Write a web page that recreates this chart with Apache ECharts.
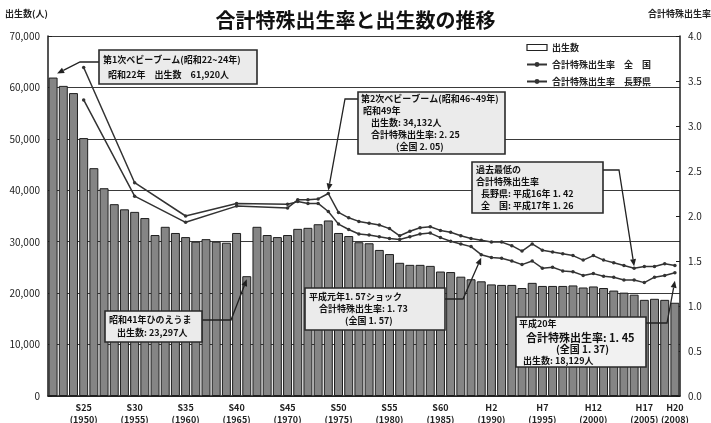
<!DOCTYPE html>
<html>
<head>
<meta charset="utf-8">
<script src="https://cdn.jsdelivr.net/npm/echarts/dist/echarts.min.js"></script>
<style>
  html, body { margin: 0; padding: 0; background: #ffffff; }
  #chart { width: 711px; height: 423px; }
</style>
</head>
<body>
<div id="chart"></div>
<script>
// Years on the category axis (昭和22年 … 平成20年)
const years = [
  '1947','1948','1949','1950','1951','1952','1953','1954','1955','1956',
  '1957','1958','1959','1960','1961','1962','1963','1964','1965','1966',
  '1967','1968','1969','1970','1971','1972','1973','1974','1975','1976',
  '1977','1978','1979','1980','1981','1982','1983','1984','1985','1986',
  '1987','1988','1989','1990','1991','1992','1993','1994','1995','1996',
  '1997','1998','1999','2000','2001','2002','2003','2004','2005','2006',
  '2007','2008'
];

// 出生数 (長野県, 人)
const births = [
  61920, 60300, 58900, 50150, 44300, 40400, 37300, 36300, 35800, 34600,
  31300, 32900, 31700, 30900, 30000, 30500, 30000, 29800, 31700, 23297,
  32900, 31300, 30900, 31300, 32500, 32700, 33400, 34132, 31700, 31100,
  29900, 29700, 28400, 27600, 25900, 25500, 25500, 25300, 24200, 24100,
  23200, 22700, 22300, 21700, 21600, 21600, 21000, 22000, 21400, 21400,
  21400, 21500, 21100, 21300, 21000, 20500, 20100, 19700, 18700, 18900,
  18700, 18129
];

// 合計特殊出生率 全国 (5-year points before 1970, yearly afterwards)
const tfrNational = [
  null, null, null, 3.65, null, null, null, null, 2.37, null,
  null, null, null, 2.00, null, null, null, null, 2.14, null,
  null, null, null, 2.13, 2.16, 2.14, 2.14, 2.05, 1.91, 1.85,
  1.80, 1.79, 1.77, 1.75, 1.74, 1.77, 1.80, 1.81, 1.76, 1.72,
  1.69, 1.66, 1.57, 1.54, 1.53, 1.50, 1.46, 1.50, 1.42, 1.43,
  1.39, 1.38, 1.34, 1.36, 1.33, 1.32, 1.29, 1.29, 1.26, 1.32,
  1.34, 1.37
];

// 合計特殊出生率 長野県
const tfrNagano = [
  null, null, null, 3.29, null, null, null, null, 2.22, null,
  null, null, null, 1.93, null, null, null, null, 2.11, null,
  null, null, null, 2.09, 2.18, 2.18, 2.19, 2.25, 2.04, 1.98,
  1.94, 1.92, 1.90, 1.86, 1.78, 1.83, 1.87, 1.88, 1.84, 1.82,
  1.78, 1.75, 1.73, 1.71, 1.71, 1.67, 1.61, 1.69, 1.62, 1.60,
  1.58, 1.56, 1.51, 1.56, 1.51, 1.48, 1.45, 1.42, 1.44, 1.44,
  1.47, 1.45
];

// Labelled years on the horizontal axis
const tickYears = ['1950','1955','1960','1965','1970','1975','1980','1985','1990','1995','2000','2005','2008'];
const tickEras  = ['S25','S30','S35','S40','S45','S50','S55','S60','H2','H7','H12','H17','H20'];

const FONT = '"Noto Sans CJK JP", "Noto Sans", sans-serif';
const INK = '#1c1c1c';
const tickMap = {};
tickYears.forEach((y, i) => { tickMap[y] = tickEras[i] + '\n(' + y + ')'; });

const chart = echarts.init(document.getElementById('chart'), null, { renderer: 'canvas' });

const option = {
  backgroundColor: '#ffffff',
  animation: false,
  textStyle: { fontFamily: FONT },
  title: {
    text: '合計特殊出生率と出生数の推移',
    left: 'center',
    top: 5,
    textStyle: { fontSize: 20, fontWeight: 'bold', color: '#111', fontFamily: FONT }
  },
  legend: {
    orient: 'vertical',
    left: 521,
    top: 38,
    itemGap: 8,
    itemWidth: 20,
    itemHeight: 6,
    textStyle: { fontSize: 9, fontWeight: 'bold', color: '#222', fontFamily: FONT },
    data: [
      { name: '出生数', icon: 'rect', itemStyle: { color: '#ffffff', borderColor: '#222', borderWidth: 1.2 } },
      '合計特殊出生率　全　国',
      '合計特殊出生率　長野県'
    ]
  },
  grid: { left: 48, right: 31, top: 36, bottom: 27, containLabel: false, outerBoundsMode: 'none' },
  xAxis: {
    type: 'category',
    data: years,
    boundaryGap: true,
    axisLine: { lineStyle: { color: INK, width: 1.5 } },
    axisTick: { show: false },
    axisLabel: {
      interval: (idx, val) => tickMap[val] !== undefined,
      formatter: (val) => tickMap[val] || '',
      fontSize: 9,
      lineHeight: 12,
      fontWeight: 'bold',
      color: '#222',
      margin: 6,
      hideOverlap: false,
      fontFamily: FONT
    },
    splitLine: { show: false }
  },
  yAxis: [
    {
      type: 'value',
      position: 'left',
      min: 0,
      max: 70000,
      interval: 10000,
      axisLine: { show: true, lineStyle: { color: INK, width: 1.5 } },
      axisTick: { show: true, inside: true, length: 4, lineStyle: { color: INK } },
      axisLabel: {
        formatter: (v) => v === 0 ? '0' : v.toLocaleString('en-US'),
        fontSize: 10,
        color: '#222',
        margin: 8,
        fontFamily: FONT
      },
      splitLine: { show: true, lineStyle: { color: '#3a3a3a', width: 1 } }
    },
    {
      type: 'value',
      position: 'right',
      min: 0,
      max: 4,
      interval: 0.5,
      axisLine: { show: true, lineStyle: { color: INK, width: 1.5 } },
      axisTick: { show: true, inside: true, length: 4, lineStyle: { color: INK } },
      axisLabel: {
        formatter: (v) => v.toFixed(1),
        fontSize: 10,
        color: '#222',
        margin: 8,
        fontFamily: FONT
      },
      splitLine: { show: false }
    }
  ],
  series: [
    {
      name: '出生数',
      type: 'bar',
      yAxisIndex: 0,
      data: births,
      barCategoryGap: '12%',
      itemStyle: { color: '#858585', borderColor: '#1e1e1e', borderWidth: 1 },
      z: 2
    },
    {
      name: '合計特殊出生率　全　国',
      type: 'line',
      yAxisIndex: 1,
      data: tfrNational,
      connectNulls: true,
      symbol: 'circle',
      symbolSize: 3.5,
      lineStyle: { color: '#333', width: 1.5 },
      itemStyle: { color: '#333' },
      z: 4
    },
    {
      name: '合計特殊出生率　長野県',
      type: 'line',
      yAxisIndex: 1,
      data: tfrNagano,
      connectNulls: true,
      symbol: 'circle',
      symbolSize: 3.5,
      lineStyle: { color: '#333', width: 1.5 },
      itemStyle: { color: '#333' },
      z: 4
    }
  ]
};

chart.setOption(option);

// ---- annotations: call-out boxes with leader arrows ----
function at(year, value, axis) {
  return chart.convertToPixel({ xAxisIndex: 0, yAxisIndex: axis }, [year, value]);
}

function arrow(points) {
  const n = points.length;
  const [x1, y1] = points[n - 2];
  const [x2, y2] = points[n - 1];
  const a = Math.atan2(y2 - y1, x2 - x1);
  const L = 7, W = 3;
  const bx = x2 - L * Math.cos(a), by = y2 - L * Math.sin(a);
  const line = points.slice(0, n - 1).concat([[bx, by]]);
  return [
    { type: 'polyline', shape: { points: line }, style: { stroke: '#222', lineWidth: 1.3, fill: null }, z: 20 },
    { type: 'polygon', shape: { points: [[x2, y2], [bx + W * Math.sin(a), by - W * Math.cos(a)], [bx - W * Math.sin(a), by + W * Math.cos(a)]] },
      style: { fill: '#222' }, z: 20 }
  ];
}

function box(x, y, w, h, lines, fill) {
  const els = [{ type: 'rect', shape: { x, y, width: w, height: h },
    style: { fill: fill || '#ebebeb', stroke: '#2a2a2a', lineWidth: 1.6 }, z: 21 }];
  lines.forEach(([t, dx, dy, fs]) => {
    els.push({ type: 'text', x: x + dx, y: y + dy, z: 22,
      style: { text: t, fontSize: fs || 9, fontWeight: 'bold', fontFamily: FONT, fill: '#111',
               align: 'left', verticalAlign: 'middle' } });
  });
  return els;
}

const p1947 = at('1947', births[0], 0);
const p1966 = at('1966', births[years.indexOf('1966')], 0);
const p1974 = at('1974', tfrNagano[years.indexOf('1974')], 1);
const p1989 = at('1989', tfrNational[years.indexOf('1989')], 1);
const p2004 = at('2004', tfrNagano[years.indexOf('2004')], 1);
const p2008 = at('2008', tfrNational[years.indexOf('2008')], 1);

const graphics = [].concat(
  // axis captions
  [{ type: 'text', x: 5, y: 14, z: 5, style: { text: '出生数(人)', fontSize: 9, fontWeight: 'bold', fontFamily: FONT, fill: '#222', verticalAlign: 'middle' } },
   { type: 'text', x: 648, y: 14, z: 5, style: { text: '合計特殊出生率', fontSize: 9, fontWeight: 'bold', fontFamily: FONT, fill: '#222', verticalAlign: 'middle' } }],

  arrow([[99, 62], [80, 62], [p1947[0] + 4, p1947[1] - 4]]),
  box(99, 50, 158, 34, [
    ['第1次ベビーブーム(昭和22~24年)', 4, 10],
    ['昭和22年　出生数　61,920人', 9, 25]
  ]),

  arrow([[358, 99], [345, 99], [p1974[0], p1974[1] - 3]]),
  box(358, 92, 147, 62, [
    ['第2次ベビーブーム(昭和46~49年)', 3, 7],
    ['昭和49年', 5, 19],
    ['出生数: 34,132人', 13, 31],
    ['合計特殊出生率: 2. 25', 13, 43],
    ['(全国 2. 05)', 38, 55]
  ]),

  arrow([[603, 170], [619, 170], [p2004[0], p2004[1] - 2]]),
  box(472, 162, 131, 51, [
    ['過去最低の', 4, 8],
    ['合計特殊出生率', 4, 20],
    ['長野県: 平成16年 1. 42', 9, 32],
    ['全　国: 平成17年 1. 26', 9, 44]
  ]),

  arrow([[202, 320], [231, 320], [p1966[0], p1966[1] + 3]]),
  box(105, 311, 97, 31, [
    ['昭和41年ひのえうま', 4, 9],
    ['出生数: 23,297人', 12, 22]
  ]),

  arrow([[445, 299], [463, 299], [p1989[0], p1989[1] + 3]]),
  box(305, 288, 140, 42, [
    ['平成元年1. 57ショック', 4, 9],
    ['合計特殊出生率: 1. 73', 14, 21],
    ['(全国 1. 57)', 40, 33]
  ]),

  arrow([[646, 323], [667, 323], [p2008[0], p2008[1] + 8]]),
  box(516, 317, 130, 50, [
    ['平成20年', 3, 7],
    ['合計特殊出生率: 1. 45', 10, 21, 11],
    ['(全国 1. 37)', 40, 32, 10],
    ['出生数: 18,129人', 7, 44]
  ], '#f1f1f1')
);

chart.setOption({ graphic: graphics });
</script>
</body>
</html>
